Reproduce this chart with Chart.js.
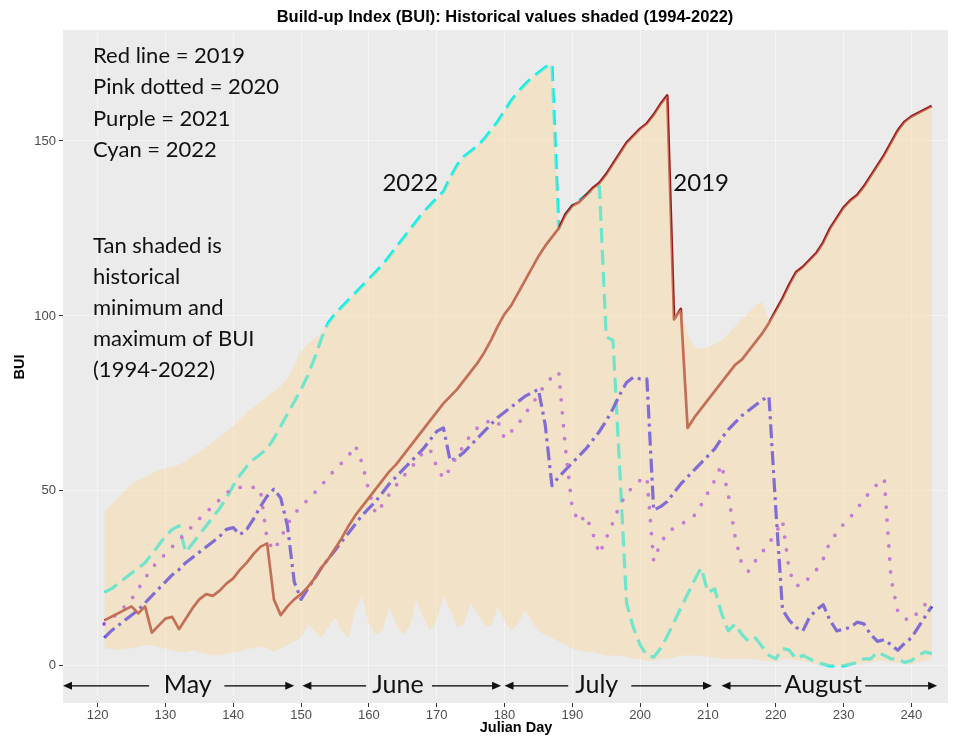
<!DOCTYPE html>
<html>
<head>
<meta charset="utf-8">
<title>Build-up Index (BUI)</title>
<script src="https://cdn.jsdelivr.net/npm/chart.js@4/dist/chart.umd.min.js"></script>
<style>
  html, body { margin: 0; padding: 0; background: #ffffff; }
  canvas { display: block; }
</style>
</head>
<body>
<canvas id="bui" width="961" height="738"></canvas>
<script>
// Julian days 121..243, one value per day
const firstDay = 121;

// 2019 (red, solid)
const bui2019 = [
  13, 14, 15, 16, 17, 15, 17, 9.5, 11.5, 13.5,
  14, 10.5, 13.5, 16.5, 19, 20.5, 20, 21.5, 23.5, 25,
  27.5, 29.5, 32, 34, 35, 19, 14.5, 17, 19, 20.5,
  22.5, 25, 28, 30.5, 33.5, 36.5, 40, 43, 45.5, 48,
  50.5, 53, 55.5, 57.5, 60, 62.5, 65, 67.5, 70, 72.5,
  75, 77, 79, 81.5, 84, 86.5, 89.5, 93, 97, 100.5,
  103, 106.5, 110, 113.5, 117, 120, 122.5, 125, 129, 131.5,
  132.5, 134.5, 136.5, 138, 140.5, 143.5, 146.5, 149.5, 151.5, 153.5,
  155, 157.5, 160.5, 163, 99, 102, 68, 71, 73.5, 76,
  78.5, 81, 83.5, 86, 87.5, 90, 92.5, 95, 98, 101.5,
  105, 109, 112.5, 114, 116, 118, 121, 125, 128, 131,
  133, 134.5, 137, 140, 143, 146, 149.5, 153, 155.5, 157,
  158, 159, 160
];

// 2020 (pink, dotted)
const bui2020 = [
  12, 13.5, 15, 17, 19, 22, 25, 28, 30, 32,
  34, 36, 38, 40, 42, 44, 45.5, 47.5, 49.5, 50.5,
  51, 51, 51, 50.5, 36, 33, 36.5, 40.5, 43.5, 45.5,
  47.5, 49.5, 51.5, 54, 56, 58, 60, 63, 58, 50,
  43.5, 46, 49, 51.5, 54, 56, 58.5, 61, 62, 57,
  53.5, 56.5, 60, 63, 66, 68, 69.5, 70, 70, 65,
  67, 69, 72, 74.5, 77.5, 80.5, 82.5, 84, 62, 45,
  41, 43, 38, 32, 36.5, 41, 46, 49, 51.5, 53,
  54, 30, 35, 38, 39.5, 40.5, 41.5, 43, 46, 49.5,
  53, 57.5, 49, 37, 29, 27, 30, 32.5, 35, 38,
  41.5, 27, 23, 23, 25.5, 27.5, 30.5, 35.5, 38, 40.5,
  42.5, 45, 47.5, 50, 52, 53.5, 25, 15.5, 13.5, 13,
  15.5, 17.5, 19
];

// 2021 (purple, dash-dot)
const bui2021 = [
  8, 10, 11.5, 13, 14.5, 16, 18, 20, 22, 24,
  26, 27.5, 29.5, 31, 32.5, 34, 35.5, 37, 39, 39.5,
  37.5, 39, 42, 45.5, 48.5, 50.5, 48, 40, 24, 19,
  22, 25, 28, 30.5, 33, 35.5, 38, 40.5, 43, 45,
  47, 49.5, 52, 54, 56, 58, 60, 62, 64.5, 67,
  68, 58.5, 59.5, 61, 63, 65, 67, 69, 71, 72.5,
  74, 75.5, 77, 78, 79, 69, 51.5, 54, 56, 58,
  60, 62, 64.5, 67, 70, 73.5, 77.5, 81, 82.5, 82,
  82, 44.5, 45.5, 47, 49.5, 52, 54, 56, 58, 60,
  62, 65, 67.5, 69.5, 71.5, 73, 74.5, 76, 77, 45,
  16, 13, 11, 10, 14, 16, 17.5, 13, 10, 10.5,
  11, 12.5, 12, 9, 7, 7.5, 6, 4.5, 6.5, 8,
  11, 14, 17
];

// 2022 (cyan, dashed)
const bui2022 = [
  21, 22, 23.5, 25, 26.5, 28, 29.5, 32, 34.5, 37,
  39, 40, 32.5, 35, 37.5, 40, 42.5, 45, 48, 51.5,
  54.5, 57, 59, 60.5, 62, 65, 68.5, 72, 75.5, 79,
  83, 88, 93.5, 98, 100.5, 102.5, 104.5, 106.5, 108.5, 110.5,
  112.5, 114.5, 117, 119.5, 122, 124.5, 127, 129.5, 131.5, 133.5,
  135.5, 139.5, 143, 145.5, 147, 148.5, 150.5, 153, 155.5, 158.5,
  161.5, 164, 166, 168, 169.5, 171, 172, 125, 129, 131.5,
  133, 134.5, 136, 137, 94, 93, 56, 18, 11, 6,
  3, 2.5, 5, 8.5, 12.5, 16.5, 20.5, 24.5, 28, 21,
  22, 15, 10, 12, 9, 7, 8, 5.5, 3, 2,
  5, 4.5, 2, 3, 2, 1, 0.5, 0, 0, 0,
  0.5, 1, 2, 2, 4, 3, 2, 2, 1, 1.5,
  3, 4, 3.5
];

// Historical daily minimum, 1994-2022
const histMin = [
  5, 5, 4.5, 5, 5, 5.5, 6, 6, 5.5, 5,
  4.5, 4, 4, 4.5, 4, 3.5, 3, 3, 3.5, 4,
  4, 5, 5, 5.5, 5, 4, 5, 6, 7, 8,
  12, 10, 8, 11, 14, 10, 8, 16, 20, 12,
  9, 10, 17, 12, 9, 11, 19, 14, 10, 13,
  20, 16, 11, 12, 18, 15, 12, 11, 17, 13,
  10, 12, 16, 13, 10, 9, 8, 7, 6, 5,
  4.5, 4, 4, 3.5, 3, 3, 3, 2.5, 2, 2,
  1.5, 1.5, 2, 2, 2.5, 3, 3, 3, 3, 2.5,
  2.5, 2, 2, 2, 2, 2, 2, 1.5, 1.5, 1,
  2, 2, 1.5, 1.5, 1, 0.5, 0, 0, 0, 0,
  0, 0.5, 1, 1, 1.5, 1.5, 1, 1, 0.5, 0.5,
  1, 1.5, 2
];

// Historical daily maximum, 1994-2022
const histMax = [
  44, 46, 48, 50, 52, 53, 54, 55, 56, 56.5,
  57, 57.5, 58.5, 60, 61, 62.5, 64, 65.5, 67, 68.5,
  70.5, 72.5, 74, 75.5, 77, 78.5, 80, 82, 86, 90,
  92, 93.5, 95, 98, 100.5, 102.5, 104.5, 106.5, 108.5, 110.5,
  112.5, 114.5, 117, 119.5, 122, 124.5, 127, 129.5, 131.5, 133.5,
  135.5, 139.5, 143, 145.5, 147, 148.5, 150.5, 153, 155.5, 158.5,
  161.5, 164, 166, 168, 169.5, 171, 172, 125, 129, 131.5,
  133, 134.5, 136.5, 138, 140.5, 143.5, 146.5, 149.5, 151.5, 153.5,
  155, 157.5, 160.5, 163, 100, 102, 95, 91, 90.5, 91,
  92, 93, 95, 97, 99, 101, 103, 104, 98.5, 101.5,
  105, 109, 112.5, 114, 116, 118, 121, 125, 128, 131,
  133, 134.5, 137, 140, 143, 146, 149.5, 153, 155.5, 157,
  158, 159, 160
];

// Axis ticks
const xTickValues = [120, 130, 140, 150, 160, 170, 180, 190, 200, 210, 220, 230, 240];
const yTickValues = [0, 50, 100, 150];

// Text
const chartTitle = 'Build-up Index (BUI): Historical values shaded (1994-2022)';
const xTitle = 'Julian Day';
const yTitle = 'BUI';
const keyLines = ['Red line = 2019', 'Pink dotted = 2020', 'Purple = 2021', 'Cyan = 2022'];
const noteLines = ['Tan shaded is', 'historical', 'minimum and', 'maximum of BUI', '(1994-2022)'];
const monthNames = ['May', 'June', 'July', 'August'];

const days = bui2019.map((_, i) => firstDay + i);
const toPoints = arr => arr.map((v, i) => ({ x: days[i], y: v }));

// Month span arrows below the zero line (day units)
const monthSpans = [
  { from: 114.9, lineEnd: 127.6, lineStart: 138.7, to: 149.0, text: 133.3 },
  { from: 150.2, lineEnd: 159.6, lineStart: 169.3, to: 179.5, text: 164.3 },
  { from: 180.0, lineEnd: 189.4, lineStart: 198.7, to: 210.6, text: 193.6 },
  { from: 212.0, lineEnd: 220.8, lineStart: 233.2, to: 243.8, text: 227.0 }
];
const arrowLevel = -5.7;

const panelBackground = {
  id: 'panelBackground',
  beforeDraw(chart) {
    const { ctx, chartArea: a } = chart;
    ctx.save();
    ctx.fillStyle = '#ffffff';
    ctx.fillRect(0, 0, chart.width, chart.height);
    ctx.fillStyle = '#EBEBEB';
    ctx.fillRect(a.left, a.top, a.right - a.left, a.bottom - a.top);
    ctx.restore();
  }
};

function arrowHead(ctx, x, y, dir) {
  ctx.beginPath();
  ctx.moveTo(x, y);
  ctx.lineTo(x - dir * 9, y - 4);
  ctx.lineTo(x - dir * 9, y + 4);
  ctx.closePath();
  ctx.fill();
}

const annotations = {
  id: 'annotations',
  afterDraw(chart) {
    const { ctx } = chart;
    const xs = chart.scales.x, ys = chart.scales.y;
    ctx.save();
    ctx.fillStyle = '#000000';
    ctx.textBaseline = 'middle';

    // Title and axis titles
    ctx.font = 'bold 16.5px "Liberation Sans", Arial, sans-serif';
    ctx.textAlign = 'center';
    ctx.fillText(chartTitle, 505, 17);
    ctx.font = 'bold 14.5px "Liberation Sans", Arial, sans-serif';
    ctx.fillText(xTitle, 516, 728);
    ctx.save();
    ctx.translate(20, 367);
    ctx.rotate(-Math.PI / 2);
    ctx.fillText(yTitle, 0, 0);
    ctx.restore();

    // Key and note text
    ctx.fillStyle = '#111111';
    ctx.textAlign = 'left';
    ctx.font = '22px Lato, "Open Sans", sans-serif';
    keyLines.forEach((t, i) => ctx.fillText(t, 93, 56 + i * 31.3));
    noteLines.forEach((t, i) => ctx.fillText(t, 93, 246 + i * 31));

    // Year labels
    ctx.font = '24px Lato, "Open Sans", sans-serif';
    ctx.fillText('2022', xs.getPixelForValue(162.0), ys.getPixelForValue(138));
    ctx.fillText('2019', xs.getPixelForValue(204.9), ys.getPixelForValue(138));

    // Month arrows
    const yy = ys.getPixelForValue(arrowLevel);
    ctx.strokeStyle = '#000000';
    ctx.lineWidth = 1.3;
    ctx.font = '25px Lato, "Open Sans", sans-serif';
    ctx.textAlign = 'center';
    monthSpans.forEach((m, i) => {
      const x0 = xs.getPixelForValue(m.from);
      const x1 = xs.getPixelForValue(m.to);
      const g0 = xs.getPixelForValue(m.lineEnd);
      const g1 = xs.getPixelForValue(m.lineStart);
      ctx.beginPath();
      ctx.moveTo(x0 + 6, yy); ctx.lineTo(g0, yy);
      ctx.moveTo(g1, yy); ctx.lineTo(x1 - 6, yy);
      ctx.stroke();
      arrowHead(ctx, x0, yy, -1);
      arrowHead(ctx, x1, yy, 1);
      ctx.fillText(monthNames[i], xs.getPixelForValue(m.text), yy - 1);
    });
    ctx.restore();
  }
};

const gridColor = 'rgba(255,255,255,0.45)';

new Chart(document.getElementById('bui'), {
  type: 'line',
  data: {
    datasets: [
      {
        label: 'Historical minimum',
        data: toPoints(histMin),
        order: 0,
        borderColor: 'rgba(0,0,0,0)',
        borderWidth: 0,
        fill: false
      },
      {
        label: 'Historical maximum',
        data: toPoints(histMax),
        order: 0,
        borderColor: 'rgba(0,0,0,0)',
        borderWidth: 0,
        backgroundColor: 'rgba(250,215,157,0.45)',
        fill: '-1'
      },
      {
        label: '2019',
        data: toPoints(bui2019),
        order: 1,
        borderColor: 'rgb(150,26,26)',
        borderWidth: 2.7,
        fill: false
      },
      {
        label: '2020',
        data: toPoints(bui2020),
        order: 2,
        borderColor: 'rgb(150,50,255)',
        borderWidth: 3.8,
        borderDash: [0, 13],
        borderCapStyle: 'round',
        fill: false
      },
      {
        label: '2021',
        data: toPoints(bui2021),
        order: 3,
        borderColor: 'rgb(30,20,255)',
        borderWidth: 3.2,
        borderDash: [14, 5, 3, 5],
        fill: false
      },
      {
        label: '2022',
        data: toPoints(bui2022),
        order: 4,
        borderColor: 'rgb(0,240,240)',
        borderWidth: 3.2,
        borderDash: [15, 7],
        fill: false
      }
    ]
  },
  options: {
    responsive: false,
    animation: false,
    devicePixelRatio: 1,
    layout: { padding: { top: 30, right: 13, left: 0, bottom: 0 } },
    elements: {
      point: { radius: 0, hoverRadius: 0 },
      line: { tension: 0, borderJoinStyle: 'round' }
    },
    plugins: {
      legend: { display: false },
      tooltip: { enabled: false },
      title: { display: false }
    },
    scales: {
      x: {
        type: 'linear',
        min: 114.9,
        max: 245.4,
        afterBuildTicks: s => { s.ticks = xTickValues.map(v => ({ value: v })); },
        afterFit: s => { s.height = 35; },
        border: { display: false },
        grid: { color: gridColor, lineWidth: 1, tickColor: '#333333', tickLength: 4, tickWidth: 1 },
        ticks: {
          color: '#4D4D4D',
          font: { family: '"Liberation Sans", Arial, sans-serif', size: 13 },
          padding: 1,
          maxRotation: 0,
          autoSkip: false
        }
      },
      y: {
        type: 'linear',
        min: -10.6,
        max: 181.7,
        afterBuildTicks: s => { s.ticks = yTickValues.map(v => ({ value: v })); },
        afterFit: s => { s.width = 63; },
        border: { display: false },
        grid: { color: gridColor, lineWidth: 1, tickColor: '#333333', tickLength: 4, tickWidth: 1 },
        ticks: {
          color: '#4D4D4D',
          font: { family: '"Liberation Sans", Arial, sans-serif', size: 13 },
          padding: 3
        }
      }
    }
  },
  plugins: [panelBackground, annotations]
});
</script>
</body>
</html>
